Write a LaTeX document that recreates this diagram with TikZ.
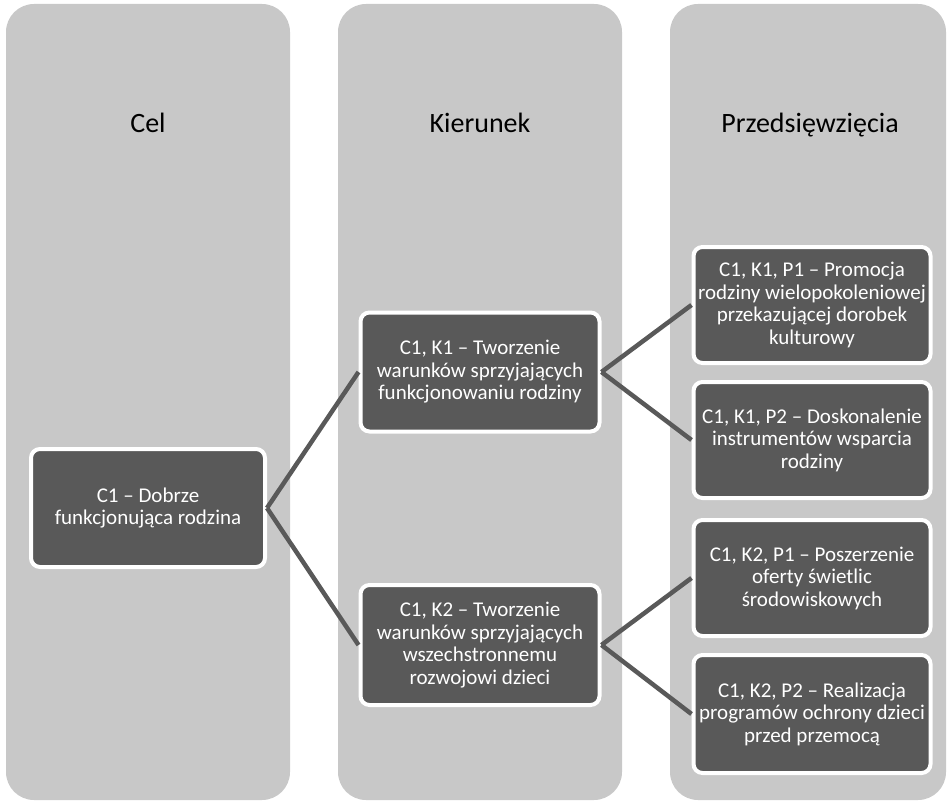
\documentclass[tikz,border=0pt]{standalone}
\usepackage{fontspec}
\setmainfont{Carlito}
\definecolor{colbg}{RGB}{200,200,200}
\definecolor{boxbg}{RGB}{89,89,89}
\begin{document}
\begin{tikzpicture}[x=1pt,y=-1pt,
  column/.style={fill=colbg, rounded corners=28pt},
  header/.style={font=\fontsize{28}{32}\selectfont, text=black, anchor=base},
  item/.style={draw=white, line width=4pt, fill=boxbg, rounded corners=9pt,
    text=white, align=center, font=\fontsize{21}{22.5}\selectfont,
    minimum width=#1, inner sep=0pt},
  item/.default=234pt,
  link/.style={draw=boxbg, line width=4.5pt}]
\useasboundingbox (0,0) rectangle (949,802);
% columns
\fill[column] (6,4) rectangle (290,800);
\fill[column] (338,4) rectangle (622,800);
\fill[column] (670,4) rectangle (946,800);
% headers
\node[header] (hcel) at (148,133) {Cel};
\node[header] (hkier) at (480,133) {Kierunek};
\node[header] (hprz) at (810,133) {Przedsięwzięcia};
% boxes
\node[item=234pt, minimum height=118pt] (c1) at (148,508) {C1 – Dobrze\\funkcjonująca rodzina};
\node[item=239pt, minimum height=119pt] (k1) at (480,372) {C1, K1 – Tworzenie\\warunków sprzyjających\\funkcjonowaniu rodziny};
\node[item=239pt, minimum height=120pt] (k2) at (480,645) {C1, K2 – Tworzenie\\warunków sprzyjających\\wszechstronnemu\\rozwojowi dzieci};
\node[item=237pt, minimum height=116pt] (p1) at (812,305) {C1, K1, P1 – Promocja\\rodziny wielopokoleniowej\\przekazującej dorobek\\kulturowy};
\node[item=237pt, minimum height=116pt] (p2) at (812,440) {C1, K1, P2 – Doskonalenie\\instrumentów wsparcia\\rodziny};
\node[item=237pt, minimum height=116pt] (p3) at (812,578) {C1, K2, P1 – Poszerzenie\\oferty świetlic\\środowiskowych};
\node[item=237pt, minimum height=118pt] (p4) at (812,714) {C1, K2, P2 – Realizacja\\programów ochrony dzieci\\przed przemocą};
% links
\draw[link] (c1.east) -- (k1.west);
\draw[link] (c1.east) -- (k2.west);
\draw[link] (k1.east) -- (p1.west);
\draw[link] (k1.east) -- (p2.west);
\draw[link] (k2.east) -- (p3.west);
\draw[link] (k2.east) -- (p4.west);
\end{tikzpicture}
\end{document}
